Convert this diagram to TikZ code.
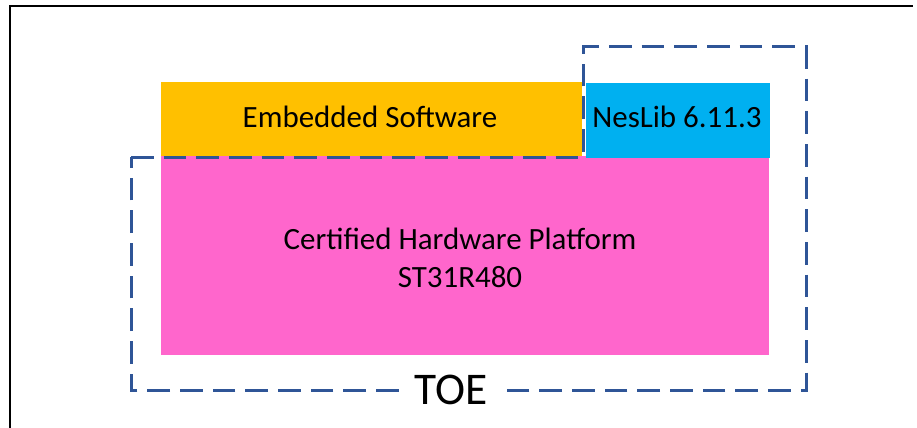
\documentclass[tikz,border=0pt]{standalone}
\usepackage{fontspec}
\setmainfont{Carlito}
\definecolor{swOrange}{RGB}{255,192,0}
\definecolor{libBlue}{RGB}{0,176,240}
\definecolor{hwPink}{RGB}{255,102,204}
\definecolor{toeBlue}{RGB}{47,85,151}
\tikzset{every picture/.style={line width=0.75pt}}
\tikzset{boxtext/.style={inner sep=0.75pt, font=\fontsize{23.2}{28.5}\selectfont},
  toeline/.style={draw=toeBlue, line width=2.25pt, dash pattern=on 17pt off 7.5pt}}
\begin{document}
\begin{tikzpicture}[x=0.75pt,y=0.75pt,yscale=-1,xscale=1]
\useasboundingbox (0,0) rectangle (917,428);

%Frame
\draw [line width=1.1pt] (10,428) -- (10,6) -- (913,6) ;
%Shape: Rectangle [hardware]
\fill [hwPink] (161,156) rectangle (769,355) ;
%Shape: Rectangle [software]
\fill [swOrange] (161,82) rectangle (582,156) ;
%Shape: Rectangle [library]
\fill [libBlue] (586,83) rectangle (770,158) ;

%Dashed outline of the TOE
\coordinate (toeA) at (131,157) ;
\coordinate (toeB) at (583,157) ;
\coordinate (toeC) at (583,47) ;
\coordinate (toeD) at (806,47) ;
\coordinate (toeE) at (806,390) ;
\coordinate (toeF) at (131,390) ;
\draw [toeline] (toeA) -- (toeB) -- (toeC) -- (toeD) -- (toeE) -- (toeF) -- cycle ;

% Text Node
\node (sw) [boxtext] at (370,117) {Embedded Software};
% Text Node
\node (lib) [boxtext] at (677,117) {NesLib 6.11.3};
% Text Node
\node (hw) [boxtext, align=center] at (460,258) {Certified Hardware Platform\\ST31R480};
% Text Node
\node (toe) [fill=white, inner xsep=9pt, inner ysep=0pt, font=\fontsize{34}{40}\selectfont] at (451,390) {TOE};

\end{tikzpicture}
\end{document}
